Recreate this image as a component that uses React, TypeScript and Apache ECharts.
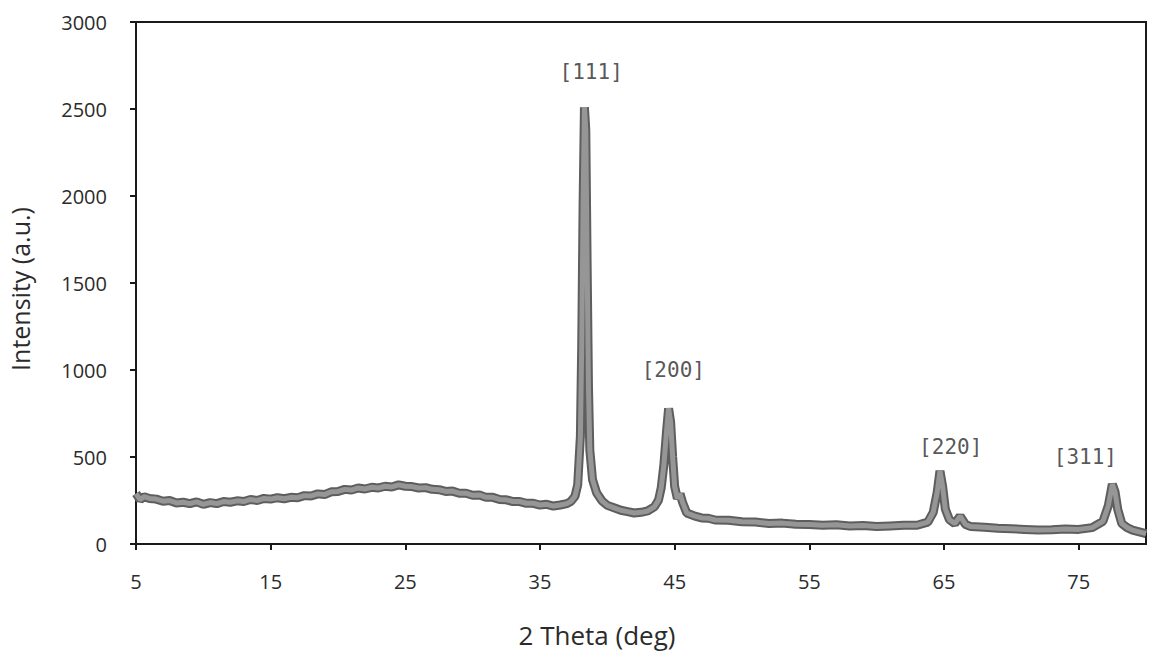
import React, { useEffect, useRef } from "react";
import * as echarts from "echarts";

// 2-theta (deg) and intensity (a.u.)
const twoTheta = [
  5, 5.3, 5.6, 6, 6.5, 7, 7.5, 8, 8.5, 9, 9.5, 10, 10.5, 11, 11.5, 12, 12.5, 13, 13.5, 14, 14.5,
  15, 15.5, 16, 16.5, 17, 17.5, 18, 18.5, 19, 19.5, 20, 20.5, 21, 21.5, 22, 22.5, 23, 23.5, 24,
  24.5, 25, 25.5, 26, 26.5, 27, 27.5, 28, 28.5, 29, 29.5, 30, 30.5, 31, 31.5, 32, 32.5, 33, 33.5,
  34, 34.5, 35, 35.5, 36, 36.5, 37, 37.3, 37.6, 37.8, 38.0, 38.1, 38.2, 38.3, 38.4, 38.5, 38.6,
  38.7, 38.9, 39.2, 39.6, 40, 40.5, 41, 41.5, 42, 42.5, 43, 43.5, 43.8, 44.0, 44.2, 44.4, 44.55,
  44.7, 44.85, 45.0, 45.2, 45.4, 45.6, 45.9, 46.5, 47, 47.5, 48, 49, 50, 51, 52, 53, 54, 55, 56,
  57, 58, 59, 60, 61, 62, 63, 63.8, 64.2, 64.5, 64.7, 64.9, 65.1, 65.4, 65.8, 66.2, 66.6, 67, 68,
  69, 70, 71, 72, 73, 74, 75, 76, 76.8, 77.2, 77.5, 77.7, 77.9, 78.2, 78.6, 79, 79.5, 80,
];
const intensity = [
  290, 255, 272, 262, 258, 246, 250, 236, 240, 232, 242, 228, 238, 232, 244, 240, 248, 244, 256, 250, 262,
  258, 266, 260, 268, 266, 278, 276, 288, 284, 300, 302, 314, 310, 322, 316, 326, 322, 332, 328,
  340, 332, 330, 322, 324, 314, 312, 302, 304, 292, 292, 280, 282, 268, 268, 256, 254, 244, 244,
  234, 234, 224, 228, 218, 224, 232, 245, 275, 340, 620, 1150, 1950, 2510, 2380, 1600, 900,
  540, 370, 295, 248, 222, 208, 194, 186, 178, 182, 190, 214, 252, 322, 455, 650, 780,
  700, 500, 330, 262, 288, 236, 178, 160, 150, 148, 138, 136, 128, 126, 118, 120, 114, 112, 108,
  110, 104, 106, 100, 104, 108, 108, 126, 182, 300, 420, 330, 200, 140, 118, 160, 112, 100, 96,
  90, 88, 84, 80, 82, 86, 84, 94, 130, 220, 344, 300, 200, 118, 94, 80, 70, 60,
];
const peakNames = ["[111]", "[200]", "[220]", "[311]"];
const peakLabelX = [38.8, 44.9, 65.5, 75.5];
const peakLabelY = [2710, 1000, 560, 500];
const xTicks = [5, 15, 25, 35, 45, 55, 65, 75];

export default function App() {
  const ref = useRef<HTMLDivElement>(null);
  useEffect(() => {
    document.body.style.margin = "0";
    if (!ref.current) return;
    const chart = echarts.init(ref.current, null, { renderer: "svg" });
    const pattern = twoTheta.map((x, i) => [x, intensity[i]]);
    const labels = peakNames.map((n, i) => [peakLabelX[i], peakLabelY[i], n]);
    chart.setOption({
      animation: false,
      backgroundColor: "#ffffff",
      grid: {
        left: 136,
        right: 7,
        top: 22,
        bottom: 111,
        show: true,
        borderColor: "#1a1a1a",
        borderWidth: 2,
        backgroundColor: "transparent",
      },
      xAxis: {
        type: "value",
        min: 5,
        max: 80,
        axisLine: { show: true, lineStyle: { color: "#1a1a1a", width: 2 } },
        axisTick: { show: true, length: 6, customValues: xTicks, lineStyle: { color: "#1a1a1a", width: 2 } },
        axisLabel: {
          customValues: xTicks,
          margin: 27,
          fontSize: 20,
          fontFamily: "Open Sans",
          color: "#2b2b2b",
        },
        splitLine: { show: false },
      },
      yAxis: {
        type: "value",
        min: 0,
        max: 3000,
        interval: 500,
        axisLine: { show: true, lineStyle: { color: "#1a1a1a", width: 2 } },
        axisTick: { show: true, length: 6, lineStyle: { color: "#1a1a1a", width: 2 } },
        axisLabel: {
          margin: 29,
          fontSize: 20,
          fontFamily: "Open Sans",
          color: "#2b2b2b",
          formatter: (v: number) => String(v),
        },
        splitLine: { show: false },
      },
      graphic: [
        {
          type: "text",
          x: 20,
          y: 289,
          rotation: Math.PI / 2,
          style: {
            text: "Intensity (a.u.)",
            fontSize: 25,
            fontFamily: "Open Sans",
            fill: "#2b2b2b",
            align: "center",
            verticalAlign: "middle",
          },
        },
        {
          type: "text",
          x: 597,
          y: 635,
          style: {
            text: "2 Theta (deg)",
            fontSize: 26,
            fontFamily: "Open Sans",
            fill: "#2b2b2b",
            align: "center",
            verticalAlign: "middle",
          },
        },
      ],
      series: [
        {
          type: "line",
          data: pattern,
          showSymbol: false,
          lineStyle: { color: "#5e5e5e", width: 9 },
          z: 2,
        },
        {
          type: "line",
          data: pattern,
          showSymbol: false,
          lineStyle: { color: "#969696", width: 5 },
          z: 3,
        },
        {
          type: "scatter",
          data: labels,
          symbolSize: 0,
          z: 4,
          label: {
            show: true,
            position: "inside",
            formatter: (p: any) => p.data[2],
            fontSize: 21,
            fontFamily: "DejaVu Sans Mono",
            color: "#2b2b2b",
          },
        },
      ],
    });
    return () => chart.dispose();
  }, []);
  return <div ref={ref} style={{ width: 1153, height: 655 }} />;
}
